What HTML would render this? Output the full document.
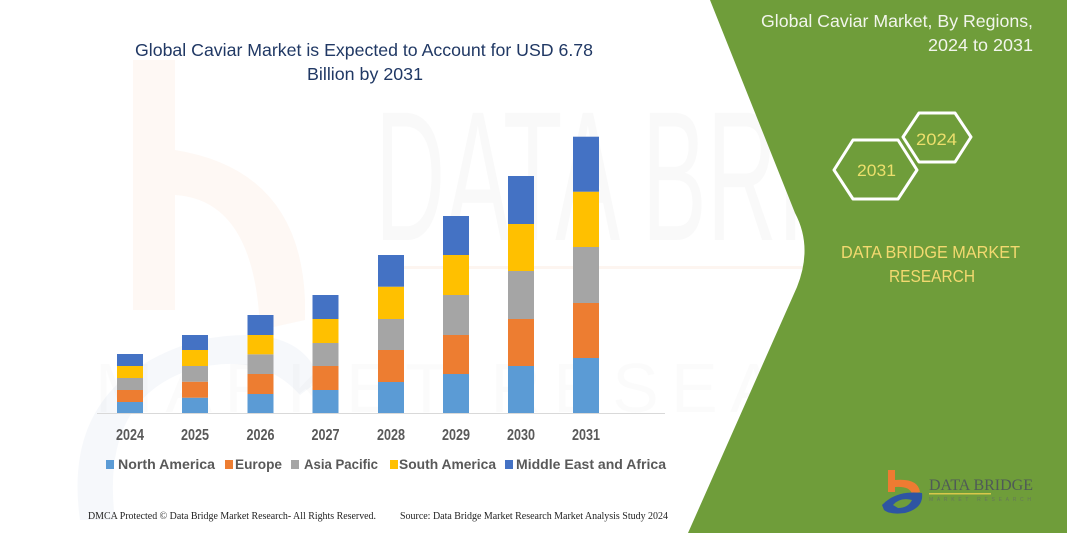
<!DOCTYPE html>
<html>
<head>
<meta charset="utf-8">
<style>
html,body{margin:0;padding:0;background:#fff;}
svg{display:block;}
</style>
</head>
<body>
<svg width="1067" height="533" viewBox="0 0 1067 533" xmlns="http://www.w3.org/2000/svg">
  <rect x="0" y="0" width="1067" height="533" fill="#ffffff"/>

  <!-- faint watermark logo (left) -->
  <g opacity="0.4">
    <rect x="133" y="60" width="42" height="250" fill="#fdeee4"/>
    <path d="M175 150 Q300 170 305 300 L305 320 L260 330 Q255 200 175 195 Z" fill="#fdeee4"/>
    <path d="M80 520 Q60 380 200 340 Q300 320 320 380 L300 395 Q260 350 190 370 Q100 400 115 520 Z" fill="#e9eef6"/>
  </g>
  <!-- faint watermark text -->
  <text x="375" y="240" font-family="Liberation Sans, sans-serif" font-size="185" fill="#000" fill-opacity="0.022" textLength="640" lengthAdjust="spacingAndGlyphs">DATA BRIDGE</text>
  <text x="95" y="412" font-family="Liberation Sans, sans-serif" font-size="70" fill="#000" fill-opacity="0.015" textLength="900" lengthAdjust="spacing" letter-spacing="30">MARKET RESEARCH</text>
  <rect x="380" y="266" width="600" height="3" fill="#fbe6d9" opacity="0.4"/>

  <!-- green panel -->
  <path d="M710 0 L795 213 Q813 247 797 287 L688 533 L1067 533 L1067 0 Z" fill="#6f9d3a"/>

  <!-- title -->
  <text x="135" y="56" font-family="Liberation Sans, sans-serif" font-size="17.5" fill="#203864" textLength="458" lengthAdjust="spacingAndGlyphs">Global Caviar Market is Expected to Account for USD 6.78</text>
  <text x="307" y="80" font-family="Liberation Sans, sans-serif" font-size="17.5" fill="#203864" textLength="116" lengthAdjust="spacingAndGlyphs">Billion by 2031</text>

  <!-- axis -->
  <line x1="97" y1="413.5" x2="665" y2="413.5" stroke="#d9d9d9" stroke-width="1"/>

  <!-- bars -->
  <g>
    <rect x="117" y="402" width="26" height="11" fill="#5b9bd5"/>
    <rect x="117" y="390" width="26" height="12" fill="#ed7d31"/>
    <rect x="117" y="378" width="26" height="12" fill="#a5a5a5"/>
    <rect x="117" y="366" width="26" height="12" fill="#ffc000"/>
    <rect x="117" y="354" width="26" height="12" fill="#4472c4"/>

    <rect x="182" y="397.7" width="26" height="15.3" fill="#5b9bd5"/>
    <rect x="182" y="381.7" width="26" height="16" fill="#ed7d31"/>
    <rect x="182" y="366" width="26" height="15.7" fill="#a5a5a5"/>
    <rect x="182" y="350" width="26" height="16" fill="#ffc000"/>
    <rect x="182" y="335" width="26" height="15" fill="#4472c4"/>

    <rect x="247.5" y="394" width="26" height="19" fill="#5b9bd5"/>
    <rect x="247.5" y="374" width="26" height="20" fill="#ed7d31"/>
    <rect x="247.5" y="354.3" width="26" height="19.7" fill="#a5a5a5"/>
    <rect x="247.5" y="335" width="26" height="19.3" fill="#ffc000"/>
    <rect x="247.5" y="315" width="26" height="20" fill="#4472c4"/>

    <rect x="312.5" y="390" width="26" height="23" fill="#5b9bd5"/>
    <rect x="312.5" y="366" width="26" height="24" fill="#ed7d31"/>
    <rect x="312.5" y="343" width="26" height="23" fill="#a5a5a5"/>
    <rect x="312.5" y="319" width="26" height="24" fill="#ffc000"/>
    <rect x="312.5" y="295" width="26" height="24" fill="#4472c4"/>

    <rect x="378" y="382" width="26" height="31" fill="#5b9bd5"/>
    <rect x="378" y="350" width="26" height="32" fill="#ed7d31"/>
    <rect x="378" y="319" width="26" height="31" fill="#a5a5a5"/>
    <rect x="378" y="286.7" width="26" height="32.3" fill="#ffc000"/>
    <rect x="378" y="255" width="26" height="31.7" fill="#4472c4"/>

    <rect x="443" y="374" width="26" height="39" fill="#5b9bd5"/>
    <rect x="443" y="335" width="26" height="39" fill="#ed7d31"/>
    <rect x="443" y="295" width="26" height="40" fill="#a5a5a5"/>
    <rect x="443" y="255" width="26" height="40" fill="#ffc000"/>
    <rect x="443" y="216" width="26" height="39" fill="#4472c4"/>

    <rect x="508" y="366" width="26" height="47" fill="#5b9bd5"/>
    <rect x="508" y="319" width="26" height="47" fill="#ed7d31"/>
    <rect x="508" y="271" width="26" height="48" fill="#a5a5a5"/>
    <rect x="508" y="224" width="26" height="47" fill="#ffc000"/>
    <rect x="508" y="176" width="26" height="48" fill="#4472c4"/>

    <rect x="573" y="358" width="26" height="55" fill="#5b9bd5"/>
    <rect x="573" y="303" width="26" height="55" fill="#ed7d31"/>
    <rect x="573" y="247" width="26" height="56" fill="#a5a5a5"/>
    <rect x="573" y="191.7" width="26" height="55.3" fill="#ffc000"/>
    <rect x="573" y="136.7" width="26" height="55" fill="#4472c4"/>
  </g>

  <!-- x labels -->
  <g font-family="Liberation Sans, sans-serif" font-size="15.5" font-weight="bold" fill="#595959">
    <text x="116" y="440" textLength="28" lengthAdjust="spacingAndGlyphs">2024</text>
    <text x="181" y="440" textLength="28" lengthAdjust="spacingAndGlyphs">2025</text>
    <text x="246.5" y="440" textLength="28" lengthAdjust="spacingAndGlyphs">2026</text>
    <text x="311.5" y="440" textLength="28" lengthAdjust="spacingAndGlyphs">2027</text>
    <text x="377" y="440" textLength="28" lengthAdjust="spacingAndGlyphs">2028</text>
    <text x="442" y="440" textLength="28" lengthAdjust="spacingAndGlyphs">2029</text>
    <text x="507" y="440" textLength="28" lengthAdjust="spacingAndGlyphs">2030</text>
    <text x="572" y="440" textLength="28" lengthAdjust="spacingAndGlyphs">2031</text>
  </g>

  <!-- legend -->
  <g font-family="Liberation Sans, sans-serif" font-size="14" font-weight="bold" fill="#595959">
    <rect x="106" y="460" width="8" height="9" fill="#5b9bd5"/>
    <text x="118" y="469" textLength="97" lengthAdjust="spacingAndGlyphs">North America</text>
    <rect x="225" y="460" width="8" height="9" fill="#ed7d31"/>
    <text x="235" y="469" textLength="47" lengthAdjust="spacingAndGlyphs">Europe</text>
    <rect x="291" y="460" width="8" height="9" fill="#a5a5a5"/>
    <text x="304" y="469" textLength="74" lengthAdjust="spacingAndGlyphs">Asia Pacific</text>
    <rect x="390" y="460" width="8" height="9" fill="#ffc000"/>
    <text x="399" y="469" textLength="97" lengthAdjust="spacingAndGlyphs">South America</text>
    <rect x="505" y="460" width="8" height="9" fill="#4472c4"/>
    <text x="516" y="469" textLength="150" lengthAdjust="spacingAndGlyphs">Middle East and Africa</text>
  </g>

  <!-- footer -->
  <g font-family="Liberation Serif, serif" font-size="10" fill="#222">
    <text x="88" y="519" textLength="288" lengthAdjust="spacingAndGlyphs">DMCA Protected © Data Bridge Market Research-  All Rights Reserved.</text>
    <text x="400" y="519" textLength="268" lengthAdjust="spacingAndGlyphs">Source: Data Bridge Market Research  Market Analysis Study 2024</text>
  </g>

  <!-- right panel title -->
  <g font-family="Liberation Sans, sans-serif" font-size="17.5" fill="#f2f5ec">
    <text x="761" y="27" textLength="272" lengthAdjust="spacingAndGlyphs">Global Caviar Market, By Regions,</text>
    <text x="928" y="51" textLength="105" lengthAdjust="spacingAndGlyphs">2024 to 2031</text>
  </g>

  <!-- hexagons -->
  <g fill="none" stroke="#ffffff" stroke-width="3" stroke-linejoin="round">
    <path d="M903 137 L919 113 L955 113 L971 137 L955 162 L919 162 Z"/>
    <path d="M834 170 L853 140 L898 140 L917 170 L898 199 L853 199 Z"/>
  </g>
  <g font-family="Liberation Sans, sans-serif" font-size="17" fill="#ecdf6c">
    <text x="916" y="145" textLength="41" lengthAdjust="spacingAndGlyphs">2024</text>
    <text x="857" y="176" textLength="39" lengthAdjust="spacingAndGlyphs">2031</text>
  </g>

  <!-- DATA BRIDGE MARKET RESEARCH -->
  <g font-family="Liberation Sans, sans-serif" font-size="17.5" fill="#f3d970">
    <text x="841" y="258" textLength="179" lengthAdjust="spacingAndGlyphs">DATA BRIDGE MARKET</text>
    <text x="889" y="282" textLength="86" lengthAdjust="spacingAndGlyphs">RESEARCH</text>
  </g>

  <!-- logo bottom right -->
  <g>
    <rect x="888" y="470" width="7" height="22" fill="#ee7b32"/>
    <path d="M895 480 Q918 478 920 492 L912 494 Q910 486 895 487 Z" fill="#ee7b32"/>
    <path d="M882 505 Q896 490 922 493 Q924 508 905 513 Q890 515 884 510 Z" fill="#2e55a3"/>
    <path d="M893 505 Q900 497 912 500 Q908 508 898 508 Z" fill="#6f9d3a"/>
    <text x="929" y="490" font-family="Liberation Serif, serif" font-size="16" fill="#4f5a57" textLength="104" lengthAdjust="spacingAndGlyphs">DATA BRIDGE</text>
    <rect x="929" y="493" width="62" height="1.5" fill="#d8c84a"/>
    <text x="929" y="501" font-family="Liberation Sans, sans-serif" font-size="5" fill="#66785a" textLength="104" lengthAdjust="spacing" letter-spacing="2">MARKET RESEARCH</text>
  </g>
</svg>
</body>
</html>
